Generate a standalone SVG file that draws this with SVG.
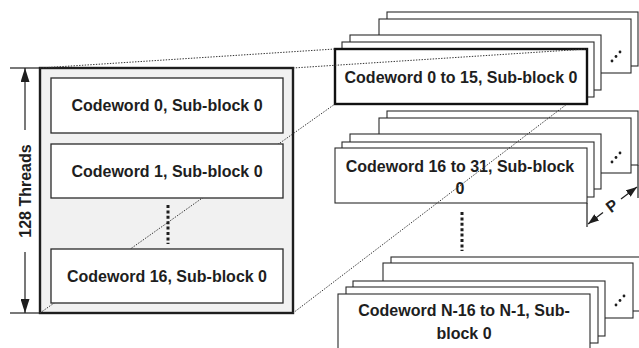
<svg xmlns="http://www.w3.org/2000/svg" width="639" height="348" viewBox="0 0 639 348">
<defs>
<style>
.t{font-family:"Liberation Sans",Arial,Helvetica,sans-serif;font-weight:bold;font-size:16px;fill:#1e1e1e;text-anchor:middle}
.sb{fill:#fff;stroke:#2a2a2a;stroke-width:1.1}
.fb{fill:#fff;stroke:#111;stroke-width:2.4}
.ib{fill:#fff;stroke:#2a2a2a;stroke-width:1.3}
.dl{fill:none;stroke:#333;stroke-width:1;stroke-dasharray:1.4,1.4}
.ln{fill:none;stroke:#1e1e1e;stroke-width:1.2}
.vd{fill:none;stroke:#1e1e1e;stroke-width:3;stroke-dasharray:3,2.4}
.dot{fill:#1e1e1e}
</style>
<marker id="ah" viewBox="0 0 14 9" refX="14" refY="4.5" markerWidth="14" markerHeight="9" orient="auto" markerUnits="userSpaceOnUse"><path d="M0,0 L14,4.5 L0,9 z" fill="#1e1e1e"/></marker>
<marker id="ahs" viewBox="0 0 11 8" refX="11" refY="4" markerWidth="11" markerHeight="8" orient="auto" markerUnits="userSpaceOnUse"><path d="M0,0 L11,4 L0,8 z" fill="#1e1e1e"/></marker>
</defs>
<rect width="639" height="348" fill="#fff"/>

<g id="stack-top">
<rect class="sb" x="387" y="12" width="251" height="54"/>
<rect class="sb" x="379" y="19" width="252" height="54"/>
<circle class="dot" cx="612" cy="61" r="1.4"/><circle class="dot" cx="616" cy="56.5" r="1.4"/><circle class="dot" cx="620" cy="52" r="1.4"/>
<rect class="sb" x="350" y="35" width="251" height="55"/>
<rect class="sb" x="342" y="42" width="252" height="55"/>
<rect class="fb" x="335" y="49" width="252" height="55"/>
<text class="t" x="461" y="83">Codeword 0 to 15, Sub-block 0</text>
</g>

<g id="stack-mid">
<rect class="sb" x="387" y="111" width="251" height="54"/>
<rect class="sb" x="379" y="118" width="252" height="55"/>
<circle class="dot" cx="612" cy="162" r="1.4"/><circle class="dot" cx="616" cy="157.5" r="1.4"/><circle class="dot" cx="620" cy="153" r="1.4"/>
<rect class="sb" x="350" y="134" width="251" height="55"/>
<rect class="sb" x="342" y="142" width="252" height="55"/>
<rect class="sb" x="335" y="148" width="252" height="55"/>
<text class="t" x="460" y="172">Codeword 16 to 31, Sub-block</text>
<text class="t" x="460" y="194">0</text>
</g>

<g id="ellipsis-right">
<line class="vd" x1="462" y1="212" x2="462" y2="251"/>
</g>

<g id="stack-bot">
<rect class="sb" x="391" y="257" width="252" height="54"/>
<rect class="sb" x="383" y="263" width="250" height="55"/>
<circle class="dot" cx="616" cy="305" r="1.4"/><circle class="dot" cx="620" cy="300.5" r="1.4"/><circle class="dot" cx="624" cy="296" r="1.4"/>
<rect class="sb" x="353" y="281" width="252" height="55"/>
<rect class="sb" x="346" y="287" width="252" height="56"/>
<rect class="sb" x="338" y="294" width="252" height="56"/>
<text class="t" x="464" y="316">Codeword N-16 to N-1, Sub-</text>
<text class="t" x="464" y="339">block 0</text>
</g>

<g id="p-dimension">
<line class="ln" x1="587" y1="203" x2="587" y2="227"/>
<line class="ln" x1="638" y1="165" x2="638" y2="198"/>
<line class="ln" x1="603" y1="212.5" x2="588" y2="224" marker-end="url(#ahs)"/>
<line class="ln" x1="621" y1="199" x2="637" y2="187" marker-end="url(#ahs)"/>
<text class="t" transform="translate(612,206) rotate(-37)" y="5.5">P</text>
</g>

<g id="threads-block">
<rect x="40" y="68" width="253" height="245" fill="#f1f1f1" stroke="#1e1e1e" stroke-width="2.4"/>
</g>

<g id="connectors">
<line class="dl" x1="40" y1="68" x2="335" y2="49"/>
<line class="dl" x1="293" y1="68" x2="587" y2="49"/>
<line class="dl" x1="40" y1="313" x2="335" y2="104"/>
<line class="dl" x1="293" y1="313" x2="567" y2="104"/>
</g>

<g id="cw0"><rect class="ib" x="51" y="78" width="232" height="55"/><text class="t" x="167" y="111">Codeword 0, Sub-block 0</text></g>
<g id="cw1"><rect class="ib" x="51" y="144" width="232" height="54"/><text class="t" x="167" y="177">Codeword 1, Sub-block 0</text></g>
<g id="ellipsis-left"><line class="vd" x1="168" y1="205" x2="168" y2="244"/></g>
<g id="cw16"><rect class="ib" x="51" y="249" width="232" height="54"/><text class="t" x="167" y="282">Codeword 16, Sub-block 0</text></g>

<g id="threads-dimension">
<line class="ln" x1="10" y1="68" x2="40" y2="68"/>
<line class="ln" x1="10" y1="313" x2="40" y2="313"/>
<line class="ln" x1="25" y1="130" x2="25" y2="68" marker-end="url(#ah)"/>
<line class="ln" x1="25" y1="252" x2="25" y2="313" marker-end="url(#ah)"/>
<text class="t" transform="translate(31,191) rotate(-90)">128 Threads</text>
</g>
</svg>
